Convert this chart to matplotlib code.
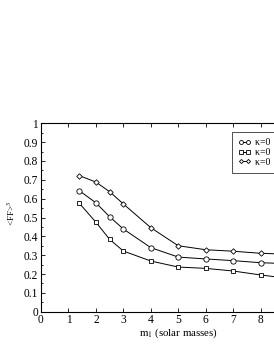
import matplotlib
matplotlib.use("Agg")
import matplotlib.pyplot as plt
from matplotlib.ticker import MultipleLocator

plt.rcParams["font.family"] = ["Liberation Serif", "DejaVu Serif"]
plt.rcParams["mathtext.fontset"] = "stix"

# masses (solar masses)
m1 = [1.4, 2.0, 2.5, 3.0, 4.0, 5.0, 6.0, 7.0, 8.0, 9.0, 10.0]

# <FF>^3 for each kappa
ff_circle = [0.642, 0.578, 0.504, 0.439, 0.340, 0.290, 0.280, 0.271, 0.260, 0.255, 0.250]
ff_square = [0.575, 0.475, 0.384, 0.322, 0.269, 0.237, 0.230, 0.216, 0.195, 0.177, 0.165]
ff_diamond = [0.722, 0.688, 0.637, 0.572, 0.446, 0.350, 0.329, 0.321, 0.310, 0.305, 0.300]

# only "κ=0" is visible, the rest of each entry is cut by the right edge
labels = ["κ=0  χ=0.1", "κ=0  χ=0.5", "κ=0  χ=0.9"]
xticks = [0, 1, 2, 3, 4, 5, 6, 7, 8]
yticks = [0, 0.1, 0.2, 0.3, 0.4, 0.5, 0.6, 0.7, 0.8, 0.9, 1]
yticklabels = ["0", "0.1", "0.2", "0.3", "0.4", "0.5", "0.6", "0.7", "0.8", "0.9", "1"]

fig = plt.figure(figsize=(2.74, 3.54), dpi=100)
# the original axes run past the right edge of the picture
ax = fig.add_axes([41 / 274, 42.3 / 354, 274.5 / 274, 188.4 / 354])

style = dict(color="black", lw=0.7, mfc="white", mec="black", mew=0.6)
ax.plot(m1, ff_circle, marker="o", ms=3.8, label=labels[0], **style)
ax.plot(m1, ff_square, marker="s", ms=3.2, label=labels[1], **style)
ax.plot(m1, ff_diamond, marker="D", ms=2.8, label=labels[2], **style)

ax.set_xlim(0, 10)
ax.set_ylim(0, 1)
ax.set_xticks(xticks)
ax.set_xticks([9, 10], minor=True)
ax.set_yticks(yticks)
ax.set_yticklabels(yticklabels)
ax.yaxis.set_minor_locator(MultipleLocator(0.05))
ax.tick_params(which="both", direction="in", top=True, right=True, labelsize=8.3)
ax.tick_params(which="major", length=3, width=0.6)
ax.tick_params(which="minor", length=1.5, width=0.6)
ax.tick_params(axis="x", which="both", pad=2)
ax.tick_params(axis="x", which="minor", length=3)
ax.tick_params(axis="y", which="both", pad=2)
for sp in ax.spines.values():
    sp.set_linewidth(0.8)

ax.set_xlabel("m$_1$ (solar masses)", fontsize=7.8, labelpad=0)
ax.set_ylabel("<FF>$^3$", fontsize=6.5)
ax.yaxis.set_label_coords(-0.087, 0.52)

leg = ax.legend(loc="upper left", bbox_to_anchor=((232 - 41) / 274.5, (311.7 - 132) / 188.4),
                fontsize=7, numpoints=2, markerscale=0.75, frameon=True, fancybox=False,
                edgecolor="black", handlelength=1.3, handletextpad=0.45, borderpad=0.65,
                labelspacing=0.08, borderaxespad=0)
leg.get_frame().set_linewidth(0.6)

fig.savefig("out.png", dpi=100)
